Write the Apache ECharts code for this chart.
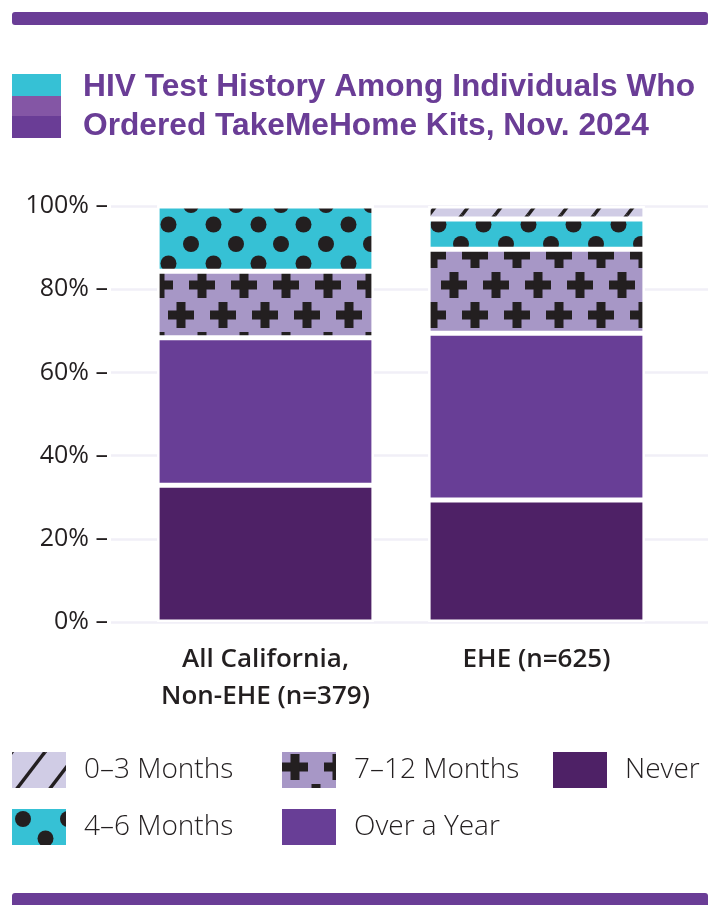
<!DOCTYPE html>
<html>
<head>
<meta charset="utf-8">
<script src="https://cdn.jsdelivr.net/npm/echarts@6/dist/echarts.min.js"></script>
<style>
  html, body { margin: 0; padding: 0; background: #fff; }
  #chart { width: 714px; height: 905px; }
</style>
</head>
<body>
<div id="chart"></div>
<script>
// categories and values (% of kits ordered), stacked bottom -> top
const categories = ['All California,\nNon-EHE (n=379)', 'EHE (n=625)'];
const never = [32.9, 29.3];
const overYear = [35.4, 40.1];
const months7to12 = [16.0, 20.2];
const months4to6 = [15.7, 7.3];
const months0to3 = [0, 3.1];
const yTicks = [0, 20, 40, 60, 80, 100];

const INK = '#231f20';
const PURPLE = '#6a3d96';

// small canvas tiles used as fill patterns
function makePattern(w, h, bg, drawShape) {
  const c = document.createElement('canvas');
  c.width = w; c.height = h;
  const ctx = c.getContext('2d');
  ctx.fillStyle = bg;
  ctx.fillRect(0, 0, w, h);
  ctx.fillStyle = INK;
  ctx.strokeStyle = INK;
  // draw with wrap so the tile repeats seamlessly
  for (let dx = -w; dx <= w; dx += w) {
    for (let dy = -h; dy <= h; dy += h) {
      drawShape(ctx, dx, dy);
    }
  }
  return { image: c, repeat: 'repeat' };
}

const dotFill = makePattern(45, 39, '#36c1d5', (ctx, dx, dy) => {
  [[11, 10], [33.5, 29.5]].forEach(p => {
    ctx.beginPath();
    ctx.arc(p[0] + dx, p[1] + dy, 8, 0, Math.PI * 2);
    ctx.fill();
  });
});

const plusFill = makePattern(42, 60, '#a797c6', (ctx, dx, dy) => {
  [[13, 15], [34, 45]].forEach(p => {
    const x = p[0] + dx, y = p[1] + dy;
    ctx.fillRect(x - 13, y - 4.5, 26, 9);
    ctx.fillRect(x - 4.5, y - 13, 9, 26);
  });
});

const slashFill = makePattern(33, 43, '#d0cce5', (ctx, dx, dy) => {
  ctx.lineWidth = 3.5;
  ctx.beginPath();
  ctx.moveTo(dx, 43 + dy);
  ctx.lineTo(33 + dx, dy);
  ctx.stroke();
});

function barSeries(name, data, fill) {
  return {
    name: name,
    type: 'bar',
    stack: 'total',
    barCategoryGap: '20%',
    data: data,
    itemStyle: { color: fill, borderColor: '#fff', borderWidth: 2.5 }
  };
}

const legendText = {
  color: INK,
  fontFamily: 'Open Sans',
  fontWeight: 300,
  fontSize: 28,
  padding: [0, 0, 0, 13]
};

function legendCol(left, names) {
  return {
    orient: 'vertical',
    left: left,
    top: 752,
    padding: 0,
    icon: 'rect',
    itemWidth: 54,
    itemHeight: 36,
    itemGap: 21,
    selectedMode: false,
    itemStyle: { borderWidth: 0 },
    textStyle: legendText,
    data: names
  };
}

const myChart = echarts.init(document.getElementById('chart'), null, { renderer: 'canvas' });

const option = {
  backgroundColor: '#fff',
  animation: false,
  title: {
    text: 'HIV Test History Among Individuals Who\nOrdered TakeMeHome Kits, Nov. 2024',
    left: 83,
    top: 68,
    padding: 0,
    textStyle: {
      color: PURPLE,
      fontFamily: 'Liberation Sans',
      fontWeight: 'bold',
      fontSize: 31.7,
      lineHeight: 39
    }
  },
  graphic: [
    { type: 'rect', shape: { x: 12, y: 12, width: 696, height: 13, r: 3 }, style: { fill: PURPLE } },
    { type: 'rect', shape: { x: 12, y: 893, width: 696, height: 20, r: 3 }, style: { fill: PURPLE } },
    { type: 'rect', shape: { x: 12, y: 74, width: 49, height: 22 }, style: { fill: '#36c1d5' } },
    { type: 'rect', shape: { x: 12, y: 96, width: 49, height: 20 }, style: { fill: '#8456a5' } },
    { type: 'rect', shape: { x: 12, y: 116, width: 49, height: 22 }, style: { fill: PURPLE } }
  ],
  legend: [
    legendCol(12, ['0–3 Months', '4–6 Months']),
    legendCol(282, ['7–12 Months', 'Over a Year']),
    legendCol(553, ['Never'])
  ],
  grid: [
    { left: 130, right: 42, top: 206, bottom: 283 },
    { left: 111, right: 6, top: 206, bottom: 283 }
  ],
  xAxis: [
    {
      type: 'category',
      gridIndex: 0,
      data: categories,
      axisLine: { show: false },
      axisTick: { show: false },
      axisLabel: {
        interval: 0,
        color: INK,
        fontFamily: 'Open Sans',
        fontWeight: 600,
        fontSize: 26,
        lineHeight: 37,
        margin: 19
      }
    },
    { type: 'value', gridIndex: 1, show: false, min: 0, max: 1 }
  ],
  yAxis: [
    { type: 'value', gridIndex: 0, min: 0, max: 100, interval: 20, show: false },
    {
      type: 'value',
      gridIndex: 1,
      min: yTicks[0],
      max: yTicks[yTicks.length - 1],
      interval: yTicks[1] - yTicks[0],
      axisLine: { show: false },
      axisTick: { show: false },
      splitLine: { lineStyle: { color: '#f1eff7', width: 2.5 } },
      axisLabel: {
        color: INK,
        fontFamily: 'Open Sans',
        fontWeight: 400,
        fontSize: 25,
        margin: 3,
        formatter: '{value}% –'
      }
    }
  ],
  series: [
    barSeries('Never', never, '#4e2166'),
    barSeries('Over a Year', overYear, '#683e96'),
    barSeries('7–12 Months', months7to12, plusFill),
    barSeries('4–6 Months', months4to6, dotFill),
    barSeries('0–3 Months', months0to3, slashFill)
  ]
};

myChart.setOption(option);
</script>
</body>
</html>
